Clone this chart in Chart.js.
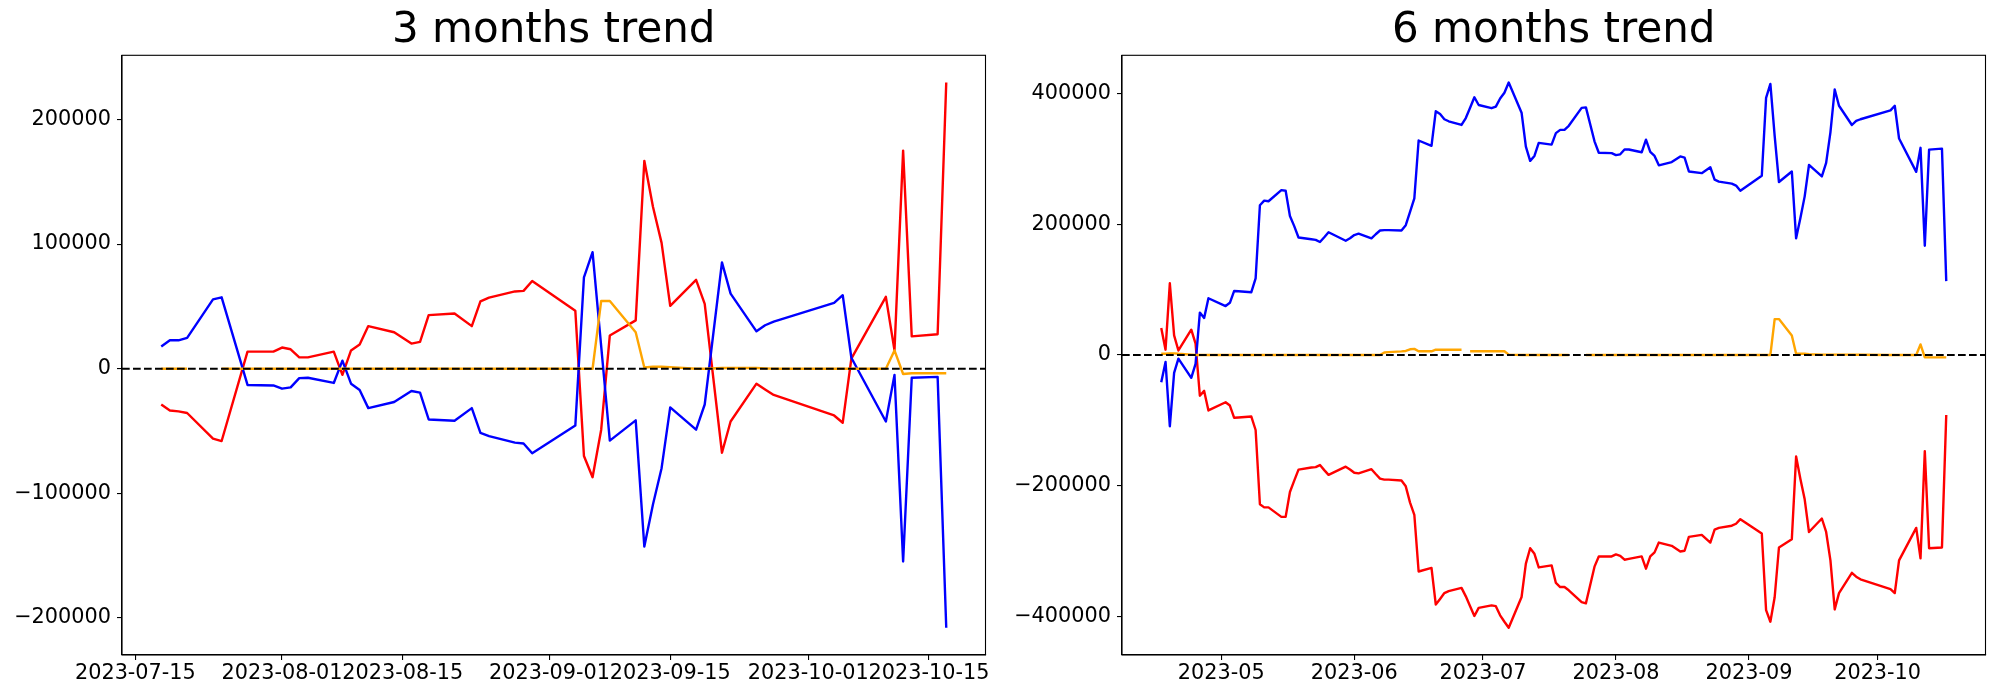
<!DOCTYPE html>
<html>
<head>
<meta charset="utf-8">
<title>3 months trend / 6 months trend</title>
<script src="https://cdn.jsdelivr.net/npm/chart.js@4.4.0/dist/chart.umd.min.js"></script>
<style>
  html, body { margin: 0; padding: 0; background: #fff; }
  #wrap { position: relative; width: 2000px; height: 700px; }
  canvas { position: absolute; top: 0; }
  #chart3 { left: 0; }
  #chart6 { left: 1000px; }
</style>
</head>
<body>
<div id="wrap">
  <canvas id="chart3" width="1000" height="700"></canvas>
  <canvas id="chart6" width="1000" height="700"></canvas>
</div>
<script>
// 3 months
const dates3 = [
  '2023-07-18','2023-07-19','2023-07-20','2023-07-21','2023-07-24','2023-07-25','2023-07-28','2023-07-31','2023-08-01','2023-08-02',
  '2023-08-03','2023-08-04','2023-08-07','2023-08-08','2023-08-09','2023-08-10','2023-08-11','2023-08-14','2023-08-16','2023-08-17',
  '2023-08-18','2023-08-21','2023-08-23','2023-08-24','2023-08-25','2023-08-28','2023-08-29','2023-08-30','2023-09-04','2023-09-05',
  '2023-09-06','2023-09-07','2023-09-08','2023-09-11','2023-09-12','2023-09-13','2023-09-14','2023-09-15','2023-09-18','2023-09-19',
  '2023-09-21','2023-09-22','2023-09-25','2023-09-26','2023-09-27','2023-10-04','2023-10-05','2023-10-06','2023-10-10','2023-10-11',
  '2023-10-12','2023-10-13','2023-10-16','2023-10-17'
];
const red3 = [
  -28700,-33500,-34200,-35500,-56000,-58000,13700,13700,17000,15600,
  9100,9100,13700,-4900,14700,19500,34200,29300,20200,21500,
  43000,44300,34200,54000,57000,62000,62500,70400,46600,-70000,
  -87000,-48900,26700,38800,166800,130000,101000,50500,71300,52000,
  -67400,-42300,-12000,-16600,-21000,-37500,-43300,8100,57700,14700,
  175000,26000,27700,229600
];
const blue3 = [
  17900,22800,22800,24800,55700,57300,-13000,-13400,-16000,-15000,
  -7500,-7200,-11400,6500,-12000,-17000,-31600,-26700,-17900,-19200,
  -40700,-41700,-31600,-51500,-54000,-59300,-60000,-67800,-45600,73300,
  93500,17900,-57700,-41400,-142700,-109000,-79800,-31000,-48900,-28700,
  85300,60300,30000,34900,37800,52800,59000,8800,-42300,-4900,
  -154700,-7200,-6500,-207800
];
const orange3 = [
  0,0,0,0,null,0,0,0,0,0,
  0,0,0,0,0,0,0,0,0,0,
  0,0,0,0,0,0,0,0,0,0,
  0,54400,54400,29300,1000,1600,1600,1300,0,0,
  600,600,600,300,0,0,0,0,0,14700,
  -4200,-3600,-3600,-3600
];
const xTicks3 = ['2023-07-15','2023-08-01','2023-08-15','2023-09-01','2023-09-15','2023-10-01','2023-10-15'];
const yTicks3 = [-200000, -100000, 0, 100000, 200000];

// 6 months
const dates6 = [
  '2023-04-17','2023-04-18','2023-04-19','2023-04-20','2023-04-21','2023-04-24','2023-04-25','2023-04-26','2023-04-27','2023-04-28',
  '2023-05-02','2023-05-03','2023-05-04','2023-05-05','2023-05-08','2023-05-09','2023-05-10','2023-05-11','2023-05-12','2023-05-15',
  '2023-05-16','2023-05-17','2023-05-18','2023-05-19','2023-05-22','2023-05-23','2023-05-24','2023-05-25','2023-05-26','2023-05-30',
  '2023-05-31','2023-06-01','2023-06-02','2023-06-05','2023-06-06','2023-06-07','2023-06-08','2023-06-09','2023-06-12','2023-06-13',
  '2023-06-14','2023-06-15','2023-06-16','2023-06-19','2023-06-20','2023-06-21','2023-06-22','2023-06-23','2023-06-26','2023-06-27',
  '2023-06-28','2023-06-29','2023-06-30','2023-07-03','2023-07-04','2023-07-05','2023-07-06','2023-07-07','2023-07-10','2023-07-11',
  '2023-07-12','2023-07-13','2023-07-14','2023-07-17','2023-07-18','2023-07-19','2023-07-20','2023-07-21','2023-07-24','2023-07-25',
  '2023-07-27','2023-07-28','2023-07-31','2023-08-01','2023-08-02','2023-08-03','2023-08-04','2023-08-07','2023-08-08','2023-08-09',
  '2023-08-10','2023-08-11','2023-08-14','2023-08-16','2023-08-17','2023-08-18','2023-08-21','2023-08-23','2023-08-24','2023-08-25',
  '2023-08-28','2023-08-29','2023-08-30','2023-09-04','2023-09-05','2023-09-06','2023-09-07','2023-09-08','2023-09-11','2023-09-12',
  '2023-09-13','2023-09-14','2023-09-15','2023-09-18','2023-09-19','2023-09-20','2023-09-21','2023-09-22','2023-09-25','2023-09-26',
  '2023-09-27','2023-10-04','2023-10-05','2023-10-06','2023-10-10','2023-10-11','2023-10-12','2023-10-13','2023-10-16','2023-10-17'
];
const blue6 = [
  -41800,-10600,-109000,-27400,-5600,-34900,-13700,64800,56700,86700,
  74800,79800,97900,97500,96000,117000,229000,236000,235000,252000,
  251000,212600,197000,179600,177000,176000,172700,180000,187700,174600,
  178400,183400,185400,178300,184600,190300,190900,190900,190300,198500,
  218800,239400,327900,319800,372800,368500,360400,357300,351700,362300,
  377900,394000,382200,377300,379700,392200,401000,416500,370400,318600,
  296800,304300,324200,321700,339200,344200,344200,350400,377800,378500,
  326700,309200,308600,305500,306800,314200,314200,309900,329200,310500,
  304300,289900,294900,303600,301800,280600,278000,287000,268000,265000,
  262000,259000,251000,274000,393000,414500,335000,264400,280600,178300,
  209500,242500,290500,273000,293700,340400,405900,381000,351600,357900,
  360400,374000,381000,331000,280000,316700,167000,314000,315500,112900
];
const red6 = [
  41200,8100,109700,30000,6900,38700,17500,-62300,-54900,-84800,
  -72300,-77300,-96000,-95500,-94100,-114700,-228200,-233000,-233000,-247500,
  -247500,-209500,-192000,-175200,-172000,-171500,-168300,-176000,-183300,-170800,
  -175000,-180000,-181000,-174600,-182000,-189000,-190500,-190500,-191800,-200800,
  -225700,-244400,-331000,-325500,-381600,-373000,-364000,-361000,-356000,-369000,
  -384000,-399000,-386600,-382800,-384000,-398000,-407800,-417000,-370000,-319000,
  -295500,-304000,-324800,-321700,-348500,-354800,-354800,-359800,-377800,-379700,
  -323600,-308000,-308000,-304900,-307000,-313000,-311700,-308000,-326700,-308000,
  -301800,-286800,-291800,-300500,-299300,-278000,-275000,-286800,-267000,-264400,
  -261000,-258000,-251000,-273000,-390000,-407800,-370400,-294300,-281800,-155300,
  -189600,-220700,-270600,-250000,-270600,-314000,-389000,-364000,-333000,-339000,
  -343000,-357900,-364000,-314000,-264400,-311000,-147000,-295500,-294300,-91700
];
const orange6 = [
  1900,1900,2500,2500,1900,600,0,0,0,0,
  0,0,0,0,0,0,0,0,0,0,
  0,0,0,0,0,0,0,0,0,0,
  0,0,0,0,0,0,3700,4300,5600,6200,
  8700,9400,5600,5600,8100,8100,8100,8100,8100,null,
  5600,5600,5600,5600,5600,5600,5600,600,0,0,
  0,0,0,0,0,0,0,0,null,0,
  0,0,0,0,0,0,0,0,0,0,
  0,0,0,0,0,0,0,0,0,0,
  0,0,0,0,0,0,54900,54900,29900,1900,
  1900,1900,1200,600,600,600,600,600,600,300,
  300,0,0,0,0,16200,-3700,-3700,-3700,-3700
];
const xTicks6 = ['2023-05','2023-06','2023-07','2023-08','2023-09','2023-10'];
const yTicks6 = [-400000, -200000, 0, 200000, 400000];

Chart.defaults.font.family = '"DejaVu Sans", sans-serif';
Chart.defaults.color = '#000';

function toMs(s) {
  const p = s.split('-').map(Number);
  return Date.UTC(p[0], p[1] - 1, p[2] || 1);
}

// matplotlib style minus sign
function fmtNum(v) {
  return v < 0 ? '\u2212' + Math.abs(v) : String(v);
}

// draws the top and right spines too
const framePlugin = {
  id: 'frame',
  afterDraw(chart) {
    const a = chart.chartArea;
    const ctx = chart.ctx;
    ctx.save();
    ctx.strokeStyle = '#000';
    ctx.lineWidth = 1.1;
    ctx.strokeRect(a.left, a.top, a.right - a.left, a.bottom - a.top);
    ctx.restore();
  }
};

function makeChart(id, title, dates, red, blue, orange, xTicks, yTicks) {
  const xs = dates.map(toMs);
  const first = xs[0], last = xs[xs.length - 1];
  const xPad = (last - first) * 0.05;
  const all = red.concat(blue, orange).filter(v => v !== null);
  const lo = Math.min(...all), hi = Math.max(...all);
  const yPad = (hi - lo) * 0.05;
  const xMin = first - xPad, xMax = last + xPad;
  const pts = vals => vals.map((v, i) => ({ x: xs[i], y: v }));

  const tickFont = { size: 20.8 };
  const ctx = document.getElementById(id).getContext('2d');
  return new Chart(ctx, {
    type: 'line',
    data: {
      datasets: [
        {
          // zero line
          data: [{ x: xMin, y: 0 }, { x: xMax, y: 0 }],
          borderColor: '#000',
          borderWidth: 2.1,
          borderDash: [7.7, 3.3]
        },
        { data: pts(orange), borderColor: 'orange', borderWidth: 2.4 },
        { data: pts(blue), borderColor: 'blue', borderWidth: 2.4 },
        { data: pts(red), borderColor: 'red', borderWidth: 2.4 }
      ]
    },
    options: {
      responsive: false,
      animation: false,
      devicePixelRatio: 1,
      spanGaps: false,
      layout: { padding: { left: 0, right: 14.5, top: 0, bottom: 0 } },
      elements: {
        point: { radius: 0, hoverRadius: 0 },
        line: { tension: 0, fill: false, borderJoinStyle: 'round' }
      },
      plugins: {
        legend: { display: false },
        tooltip: { enabled: false },
        title: {
          display: true,
          text: title,
          fullSize: false,
          color: '#000',
          font: { size: 42, weight: 'normal', lineHeight: 1 },
          padding: { top: 10, bottom: 3.3 }
        }
      },
      scales: {
        x: {
          type: 'linear',
          min: xMin,
          max: xMax,
          grid: { drawOnChartArea: false, drawTicks: true, tickLength: 5, color: '#000', lineWidth: 1.1 },
          border: { display: true, color: '#000', width: 1.1 },
          ticks: {
            autoSkip: false,
            maxRotation: 0,
            minRotation: 0,
            padding: 1.5,
            font: tickFont,
            color: '#000',
            callback: (v, i) => xTicks[i]
          },
          afterBuildTicks: axis => { axis.ticks = xTicks.map(s => ({ value: toMs(s) })); },
          afterFit: axis => { axis.height = 45; axis.paddingLeft = 0; axis.paddingRight = 0; }
        },
        y: {
          min: lo - yPad,
          max: hi + yPad,
          grid: { drawOnChartArea: false, drawTicks: true, tickLength: 5, color: '#000', lineWidth: 1.1 },
          border: { display: true, color: '#000', width: 1.1 },
          ticks: {
            padding: 6,
            font: tickFont,
            color: '#000',
            callback: v => fmtNum(v)
          },
          afterBuildTicks: axis => { axis.ticks = yTicks.map(v => ({ value: v })); },
          afterFit: axis => { axis.width = 122; axis.paddingTop = 0; axis.paddingBottom = 0; }
        }
      }
    },
    plugins: [framePlugin]
  });
}

makeChart('chart3', '3 months trend', dates3, red3, blue3, orange3, xTicks3, yTicks3);
makeChart('chart6', '6 months trend', dates6, red6, blue6, orange6, xTicks6, yTicks6);
</script>
</body>
</html>
